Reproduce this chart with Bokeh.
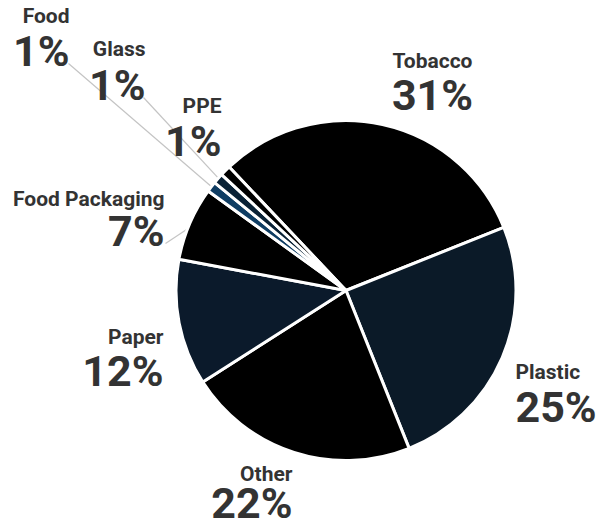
import math
from bokeh.plotting import figure
from bokeh.models import Range1d
from bokeh.core.properties import value
from bokeh.embed import file_html
from bokeh.resources import INLINE

# ---- data ----
categories = ["Tobacco", "Plastic", "Other", "Paper", "Food Packaging", "Food", "Glass", "PPE"]
shares = [31, 25, 22, 12, 7, 1, 1, 1]
pct_labels = ["31%", "25%", "22%", "12%", "7%", "1%", "1%", "1%"]
colors = ["#000000", "#0b1a28", "#000000", "#0b1a2b", "#000000", "#0f3d63", "#0a2236", "#000000"]

W, H = 604, 527
CX, CY, R = 345.5, 290.0, 170.0      # pixel-space centre/radius
START_DEG = 133.4                    # Tobacco's counter-clockwise edge
NAME_FS, PCT_FS = 21, 43

# label layout: (anchor x, name baseline y, pct baseline y, align) in pixel coordinates
label_layout = {
    "Tobacco":        (432, 67, 107, "center"),
    "Plastic":        (515, 378, 419, "left"),
    "Other":          (292, 480, 515, "right"),
    "Paper":          (163, 343, 383, "right"),
    "Food Packaging": (164, 205, 243, "right"),
    "Food":           (69, 22, 63, "right"),
    "Glass":          (145, 55, 97, "right"),
    "PPE":            (221, 112, 153, "right"),
}
leader_starts = {"Food": (68, 63), "Glass": (143, 97), "Food Packaging": (165, 243)}

p = figure(width=W, height=H, x_range=Range1d(0, W), y_range=Range1d(0, H),
           output_backend="svg", toolbar_location=None, min_border=0)
p.axis.visible = False
p.grid.visible = False
p.outline_line_color = None
p.background_fill_color = "white"
p.border_fill_color = "white"

cx, cy = CX, H - CY
total = sum(shares)
cur = math.radians(START_DEG)
starts, ends, mids = [], [], []
for s in shares:
    sweep = 2 * math.pi * s / total
    ends.append(cur)
    starts.append(cur - sweep)
    mids.append(cur - sweep / 2)
    cur -= sweep

# leader lines (drawn under the pie)
for cat, mid in zip(categories, mids):
    if cat in leader_starts:
        lx, ly = leader_starts[cat]
        ex = cx + (R - 4) * math.cos(mid)
        ey = cy + (R - 4) * math.sin(mid)
        p.line([lx, ex], [H - ly, ey], line_color="#c4c4c4", line_width=1.2)

p.wedge(x=[cx] * len(shares), y=[cy] * len(shares), radius=R,
        start_angle=starts, end_angle=ends, fill_color=colors,
        line_color="white", line_width=3)

for cat, pct in zip(categories, pct_labels):
    ax, ny, py, al = label_layout[cat]
    p.text(x=[ax], y=[H - ny + 0.3 * NAME_FS], text=[cat], text_align=al,
           text_baseline="alphabetic",
           text_font=value("Roboto"), text_font_style="bold", text_font_size=f"{NAME_FS}px",
           text_color="#333333")
    p.text(x=[ax], y=[H - py + 0.3 * PCT_FS], text=[pct], text_align=al,
           text_baseline="alphabetic",
           text_font=value("Roboto"), text_font_style="bold", text_font_size=f"{PCT_FS}px",
           text_color="#333333")

open("out.html", "w").write(file_html(p, INLINE))
